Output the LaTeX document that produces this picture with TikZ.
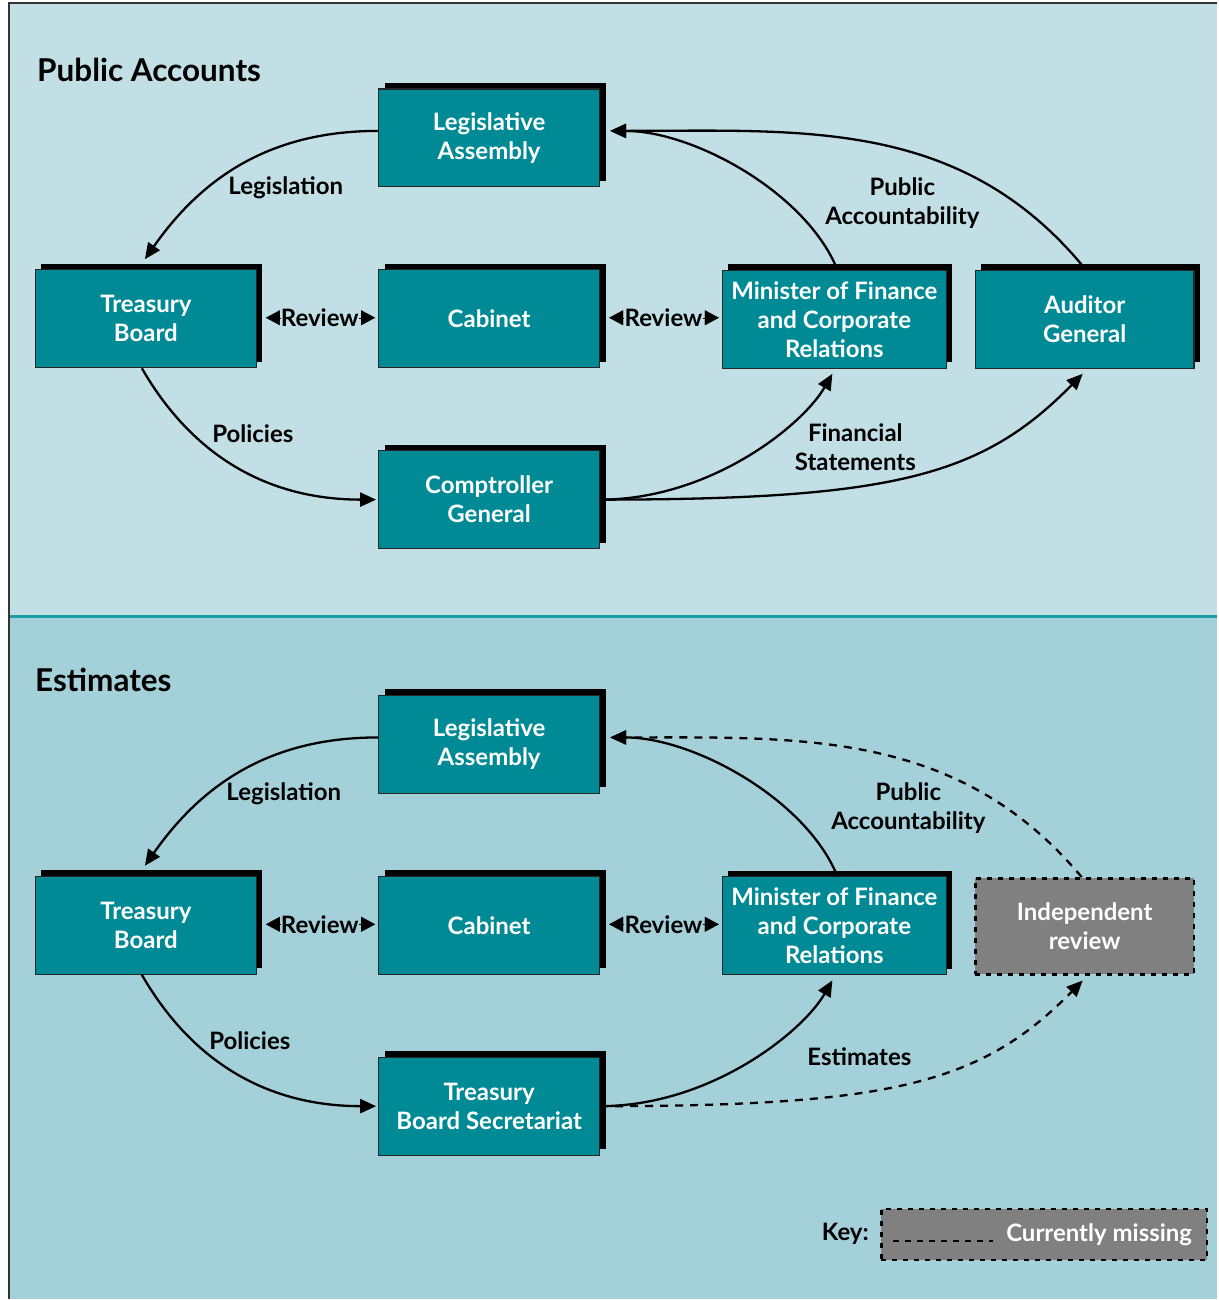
\documentclass[tikz,border=0pt]{standalone}
\usepackage{fontspec}
\setmainfont{Lato}
\usetikzlibrary{arrows.meta,shadows,calc}

\definecolor{panelA}{HTML}{C1DFE4}
\definecolor{panelB}{HTML}{A3D0D9}
\definecolor{rulecol}{HTML}{1A9CA9}
\definecolor{boxfill}{HTML}{008A96}
\definecolor{missfill}{HTML}{808080}
\definecolor{framecol}{HTML}{333333}

\newcommand\dgboxfont{\fontsize{24}{29}\selectfont\bfseries}
\newcommand\dglblfont{\fontsize{24}{29}\selectfont\bfseries}
\newcommand\dgtitlefont{\fontsize{31.5}{34}\selectfont\bfseries}

\begin{document}
\begin{tikzpicture}[x=1pt,y=1pt,
  orgbox/.style={draw=black!85, line width=1.2pt, fill=boxfill, text=white,
    font=\dgboxfont, align=center, minimum width=221pt, minimum height=98pt,
    inner sep=0pt,
    general shadow={fill=black, shadow xshift=6pt, shadow yshift=6pt}},
  widebox/.style={orgbox, minimum width=224pt},
  missbox/.style={draw=black, line width=2.5pt, dash pattern=on 5pt off 6pt,
    fill=missfill, text=white, font=\dgboxfont, align=center, inner sep=0pt},
  lbl/.style={font=\dglblfont, text=black, align=center, inner sep=0pt},
  title/.style={font=\dgtitlefont, text=black, anchor=west, inner sep=0pt},
  conn/.style={line width=2.3pt, -{Triangle[length=16pt,width=14pt]}},
  missconn/.style={conn, dash pattern=on 8pt off 7pt},
  revtip/.style={line width=0.1pt, -{Triangle[length=14pt,width=15pt]}},
  % curve shapes shared by both panels
  tolow/.style={out=0,in=240,out distance=110pt,in distance=60pt},
  tofar/.style={out=0,in=225.5,out distance=295pt,in distance=143pt},
]

% page, panels and frame
\fill[white] (0,0) rectangle (1218,-1300);
\fill[panelA] (10,-4) rectangle (1218,-616);
\fill[panelB] (10,-616) rectangle (1218,-1300);
\draw[rulecol, line width=3pt] (10,-617) -- (1218,-617);
\draw[framecol, line width=2pt] (9,-1300) -- (9,-3) -- (1218,-3);

% ---------------- Public Accounts ----------------
\node[title] (t1) at (37,-70) {Public Accounts};

\node[orgbox]  (la1)  at (489.5,-138) {Legislative\\Assembly};
\node[orgbox]  (tb1)  at (146,-319)   {Treasury\\Board};
\node[orgbox]  (cab1) at (489.5,-319) {Cabinet};
\node[widebox] (mof1) at (835,-319.5) {Minister of Finance\\and Corporate\\Relations};
\node[orgbox, minimum width=219pt] (ag1) at (1085.5,-319.5) {Auditor\\General};
\node[orgbox]  (cg1)  at (489.5,-500) {Comptroller\\General};

\node[lbl] (leg1) at (286,-188) {Legislation};
\node[lbl] (pa1)  at (903,-203) {Public\\Accountability};
\node[lbl] (pol1) at (253,-434) {Policies};
\node[lbl] (fs1)  at (856,-448) {Financial\\Statements};
\node[lbl] (rv1a) at (320,-318) {Review};
\node[lbl] (rv1b) at (664,-318) {Review};

\draw[conn] ([yshift=7pt]la1.west) to[out=180,in=55] ([xshift=-1pt,yshift=10pt]tb1.north);
\draw[conn] ([xshift=3pt]mof1.north) to[out=112,in=0,looseness=0.8] ([xshift=10pt,yshift=7pt]la1.east);
\draw[conn] ([xshift=-3pt,yshift=5pt]ag1.north) to[out=130,in=0] ([xshift=10pt,yshift=7pt]la1.east);
\draw[conn] ([xshift=-4pt]tb1.south) to[out=-60,in=180] ([xshift=-2pt]cg1.west);
\draw[conn] (cg1.east) to[tolow] ([xshift=-2pt,yshift=-5pt]mof1.south);
\draw[conn] (cg1.east) to[tofar] ([xshift=-2pt,yshift=-5pt]ag1.south);

\draw[revtip, shorten >=9pt] (rv1a.west) -- (rv1a.west -| tb1.east);
\draw[revtip, shorten >=3pt] (rv1a.east) -- (rv1a.east -| cab1.west);
\draw[revtip, shorten >=9pt] (rv1b.west) -- (rv1b.west -| cab1.east);
\draw[revtip, shorten >=3pt] (rv1b.east) -- (rv1b.east -| mof1.west);

% ---------------- Estimates ----------------
\node[title] (t2) at (35,-680) {Estimates};

\node[orgbox]  (la2)  at (489.5,-745) {Legislative\\Assembly};
\node[orgbox]  (tb2)  at (146,-926)   {Treasury\\Board};
\node[orgbox]  (cab2) at (489.5,-926) {Cabinet};
\node[widebox] (mof2) at (835,-926.5) {Minister of Finance\\and Corporate\\Relations};
\node[missbox, minimum width=219pt, minimum height=96pt] (ir2) at (1085.5,-927) {Independent\\review};
\node[orgbox]  (tbs2) at (489.5,-1107) {Treasury\\Board Secretariat};

\node[lbl] (leg2) at (284,-794)  {Legislation};
\node[lbl] (pa2)  at (909,-809)  {Public\\Accountability};
\node[lbl] (pol2) at (250,-1041) {Policies};
\node[lbl] (est2) at (860,-1057) {Estimates};
\node[lbl] (rv2a) at (320,-925) {Review};
\node[lbl] (rv2b) at (664,-925) {Review};

\draw[conn] ([yshift=7pt]la2.west) to[out=180,in=55] ([xshift=-1pt,yshift=10pt]tb2.north);
\draw[missconn] ([xshift=-3pt]ir2.north) to[out=130,in=0] ([xshift=10pt,yshift=7pt]la2.east);
\draw[conn] ([xshift=3pt]mof2.north) to[out=112,in=0,looseness=0.8] ([xshift=10pt,yshift=7pt]la2.east);
\draw[conn] ([xshift=-4pt]tb2.south) to[out=-60,in=180] ([xshift=-2pt]tbs2.west);
\draw[missconn] (tbs2.east) to[tofar] ([xshift=-2pt,yshift=-5pt]ir2.south);
\draw[conn] (tbs2.east) to[tolow] ([xshift=-2pt,yshift=-5pt]mof2.south);

\draw[revtip, shorten >=9pt] (rv2a.west) -- (rv2a.west -| tb2.east);
\draw[revtip, shorten >=3pt] (rv2a.east) -- (rv2a.east -| cab2.west);
\draw[revtip, shorten >=9pt] (rv2b.west) -- (rv2b.west -| cab2.east);
\draw[revtip, shorten >=3pt] (rv2b.east) -- (rv2b.east -| mof2.west);

% ---------------- key ----------------
\node[lbl] (keylbl) at (846,-1235) {Key:};
\node[missbox, minimum width=326pt, minimum height=51pt] (keybox) at (1045,-1235.5) {};
\node[lbl, text=white] (keytxt) at (1100,-1236) {Currently missing};
\coordinate (keyA) at ([xshift=13pt,yshift=-6.5pt]keybox.west);
\coordinate (keyB) at ([xshift=113pt,yshift=-6.5pt]keybox.west);
\draw[line width=2.5pt, dash pattern=on 6pt off 6pt] (keyA) -- (keyB);

\end{tikzpicture}
\end{document}
